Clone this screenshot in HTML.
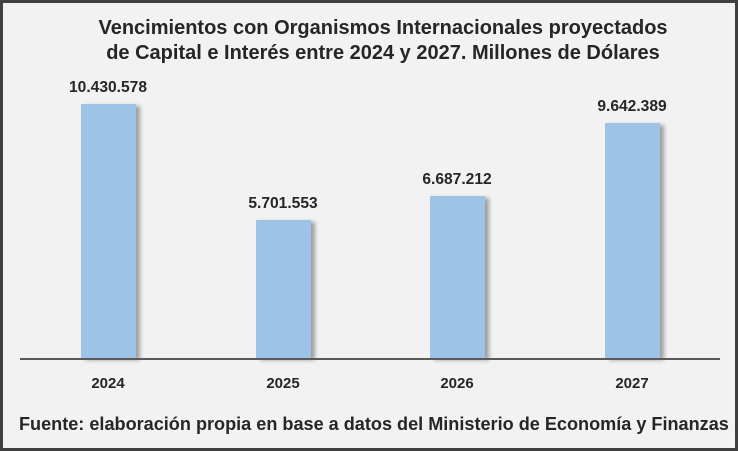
<!DOCTYPE html>
<html><head><style>
body{margin:0;}
.c{position:relative;width:738px;height:451px;box-sizing:border-box;border:3px solid #404040;background:#f2f2f2;font-family:"Liberation Sans",sans-serif;overflow:hidden;}
.t{position:absolute;left:0;width:760px;top:13px;text-align:center;font-weight:bold;font-size:20px;line-height:25px;color:#262626;}
.b{position:absolute;width:55px;background:#9dc3e6;box-shadow:4px 2px 4px rgba(0,0,0,0.35);}
.v{position:absolute;width:160px;text-align:center;font-weight:bold;font-size:15.6px;color:#262626;}
.x{position:absolute;width:100px;text-align:center;font-weight:bold;font-size:15px;color:#262626;top:372px;}
.ax{position:absolute;left:17px;width:700px;top:355px;height:2px;background:#595959;}
.f{position:absolute;left:16px;top:411px;font-weight:bold;font-size:18.1px;color:#262626;white-space:nowrap;}
</style></head><body>
<div class="c">
<div class="t">Vencimientos con Organismos Internacionales proyectados<br>de Capital e Interés entre 2024 y 2027. Millones de Dólares</div>
<div class="b" style="left:78px;top:101px;height:254px"></div>
<div class="b" style="left:253px;top:217px;height:138px"></div>
<div class="b" style="left:427px;top:193px;height:162px"></div>
<div class="b" style="left:602px;top:120px;height:235px"></div>
<div class="v" style="left:25px;top:76px">10.430.578</div>
<div class="v" style="left:200px;top:192px">5.701.553</div>
<div class="v" style="left:374px;top:168px">6.687.212</div>
<div class="v" style="left:549px;top:95px">9.642.389</div>
<div class="ax"></div>
<div class="x" style="left:55px">2024</div>
<div class="x" style="left:230px">2025</div>
<div class="x" style="left:404px">2026</div>
<div class="x" style="left:579px">2027</div>
<div class="f">Fuente: elaboración propia en base a datos del Ministerio de Economía y Finanzas</div>
</div>
</body></html>
